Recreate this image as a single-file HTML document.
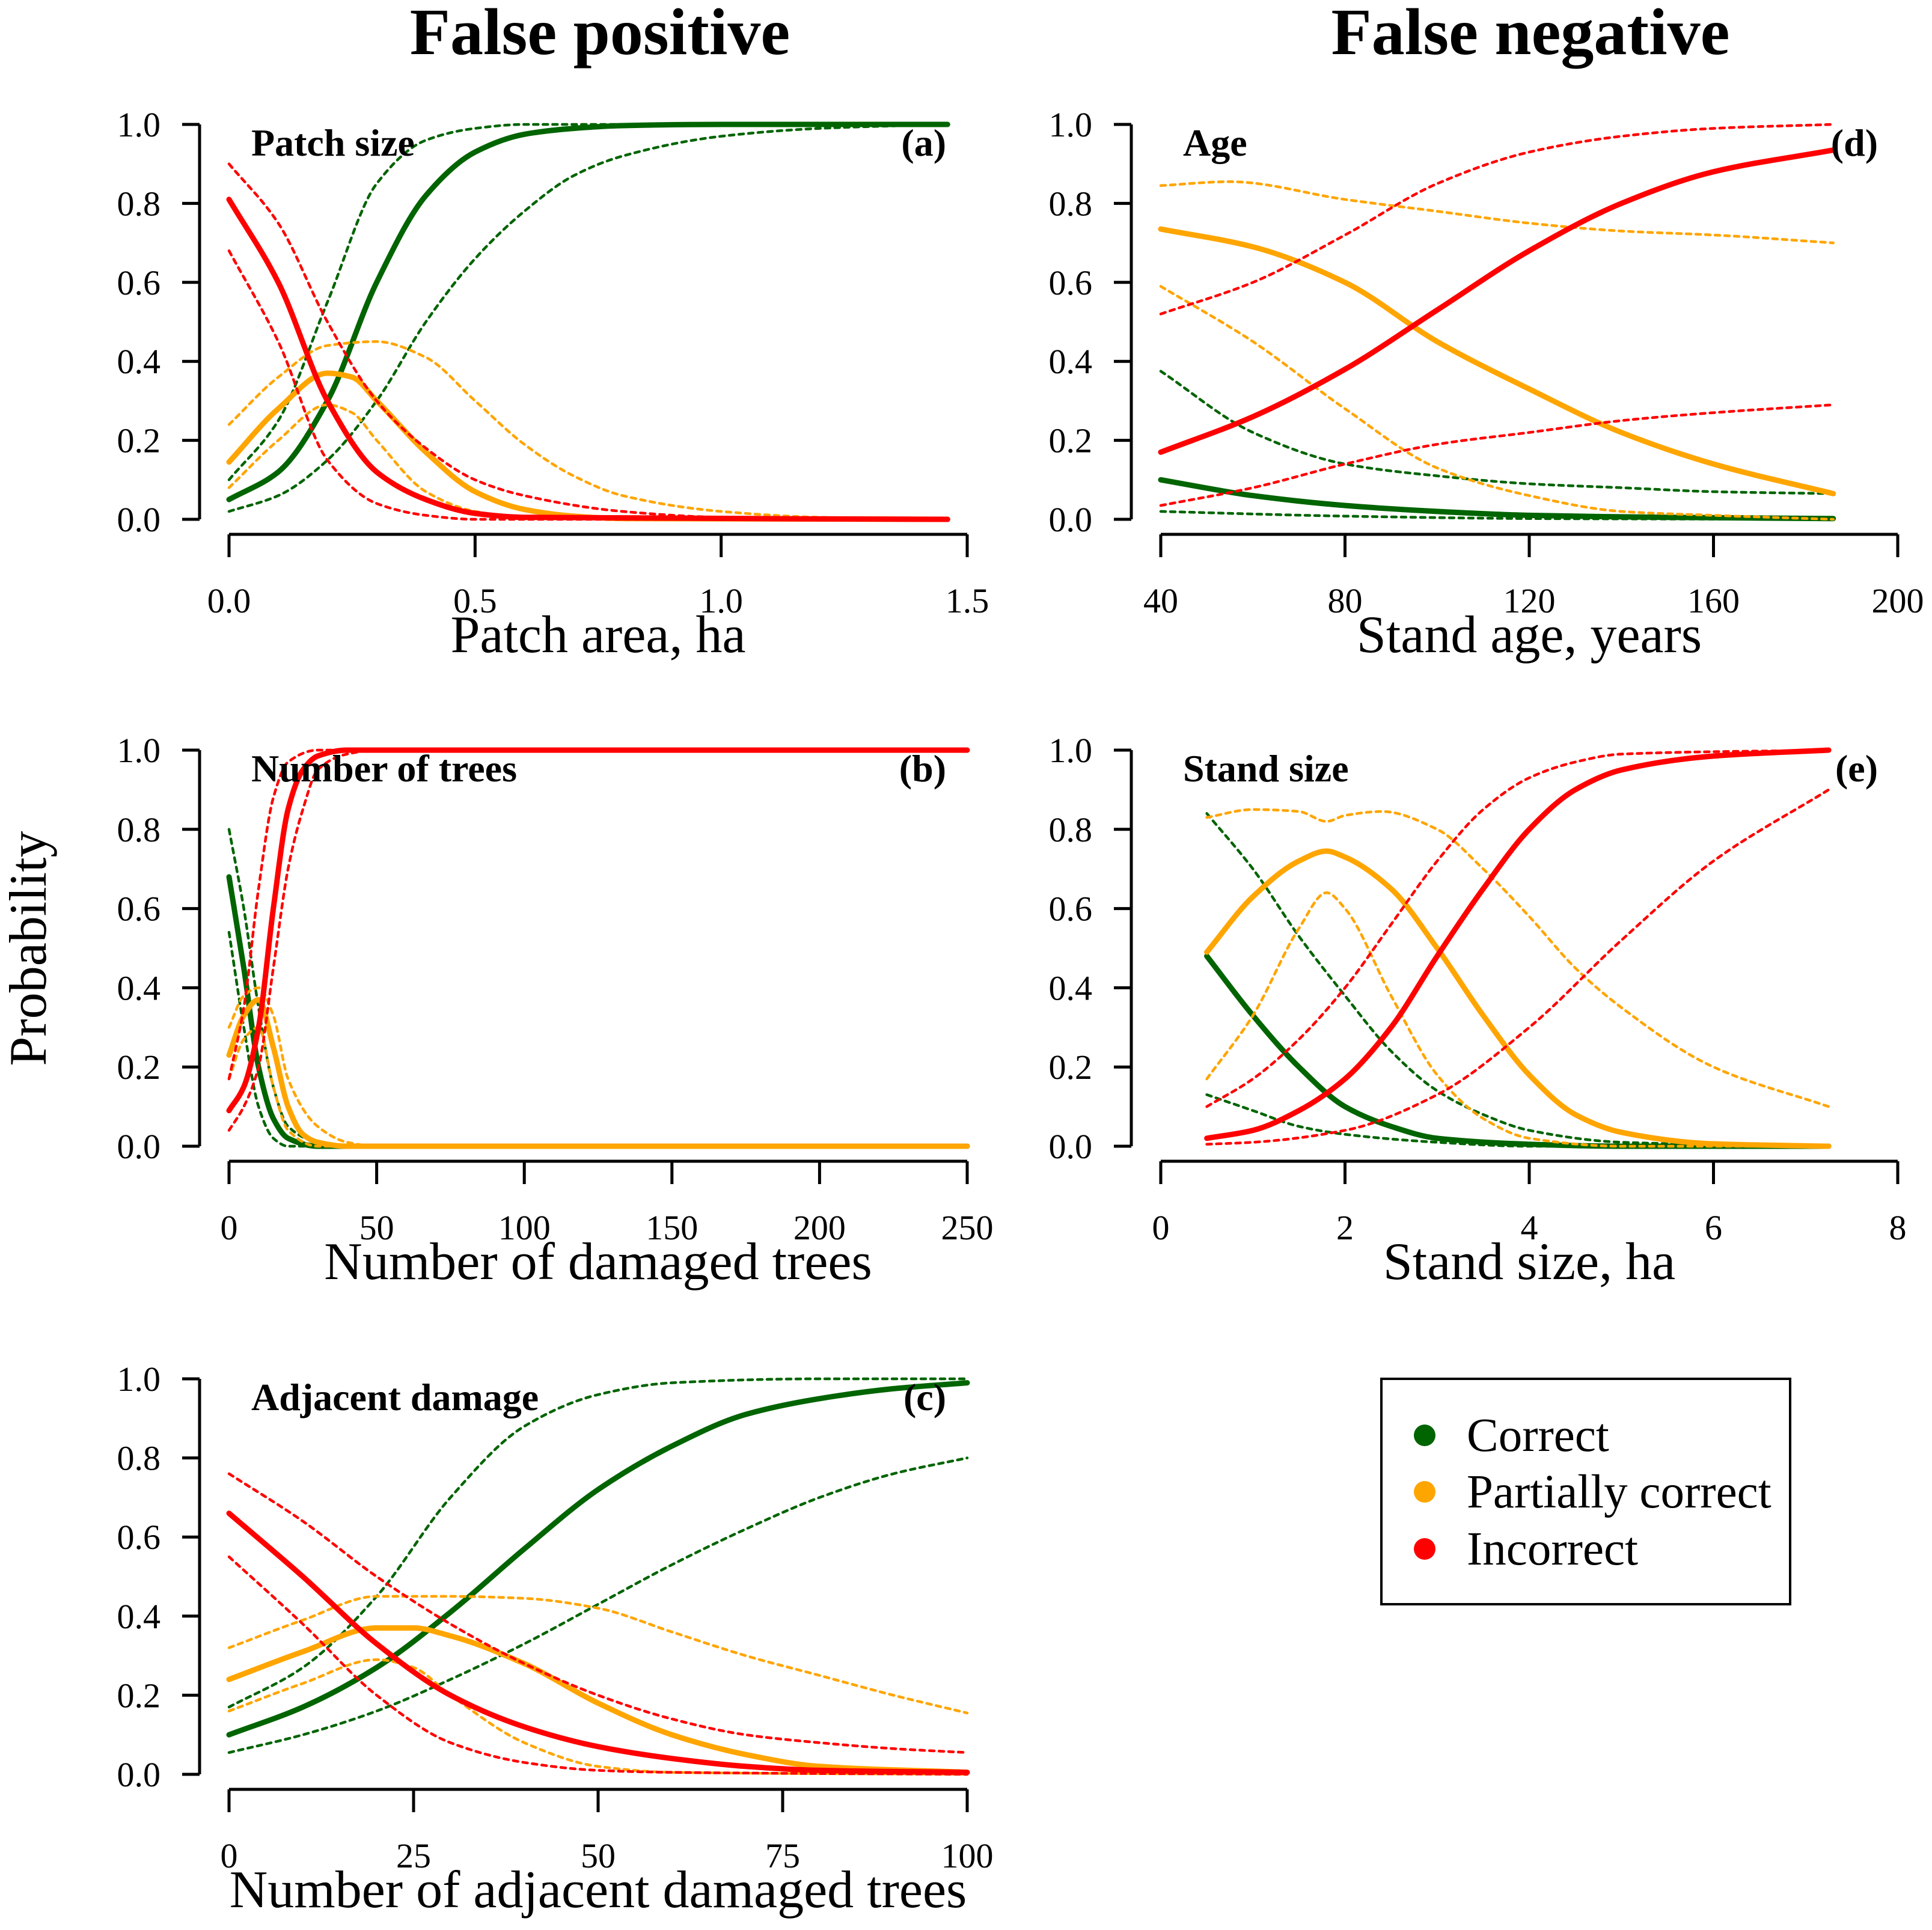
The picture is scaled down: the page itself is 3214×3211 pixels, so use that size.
<!DOCTYPE html>
<html><head><meta charset="utf-8"><style>
html,body{margin:0;padding:0;background:#fff}
svg{display:block;font-family:"Liberation Serif",serif}
</style></head><body>
<svg id="chart" xmlns="http://www.w3.org/2000/svg" width="3214" height="3211" viewBox="0 0 3214 3211">
<rect width="3214" height="3211" fill="#fff"/>
<text x="998" y="90" font-size="110" font-weight="bold" text-anchor="middle">False positive</text>
<text x="2546" y="90" font-size="110" font-weight="bold" text-anchor="middle">False negative</text>
<text transform="translate(76,1578) rotate(-90)" font-size="88" text-anchor="middle">Probability</text>
<g>
<rect x="2298" y="2294" width="680" height="375" fill="none" stroke="#000" stroke-width="4"/>
<circle cx="2370" cy="2388" r="18" fill="#006400"/>
<text x="2440" y="2414" font-size="79">Correct</text>
<circle cx="2370" cy="2482" r="18" fill="#FFA500"/>
<text x="2440" y="2508" font-size="79">Partially correct</text>
<circle cx="2370" cy="2577" r="18" fill="#FF0000"/>
<text x="2440" y="2603" font-size="79">Incorrect</text>
</g>
</svg>
<script>
// Panel (a) Patch size
const aCorrect=[[0,.05],[.1,.12],[.2,.3],[.3,.6],[.4,.82],[.5,.93],[.6,.975],[.7,.99],[.8,.997],[1,1],[1.46,1]];
const aCorrectUp=[[0,.1],[.1,.25],[.2,.55],[.3,.85],[.4,.96],[.5,.99],[.6,1],[1.46,1]];
const aCorrectLo=[[0,.02],[.1,.06],[.2,.15],[.3,.3],[.4,.5],[.5,.66],[.6,.78],[.7,.87],[.8,.92],[1,.97],[1.2,.99],[1.46,1]];
const aPartial=[[0,.145],[.1,.28],[.2,.37],[.25,.36],[.3,.3],[.4,.17],[.5,.07],[.6,.025],[.7,.008],[.8,.002],[1.46,0]];
const aPartialUp=[[0,.24],[.1,.36],[.2,.44],[.3,.45],[.4,.41],[.5,.3],[.6,.19],[.7,.11],[.8,.06],[1,.02],[1.2,.005],[1.46,0]];
const aPartialLo=[[0,.08],[.1,.2],[.2,.29],[.25,.27],[.3,.2],[.4,.07],[.5,.02],[.6,.005],[1.46,0]];
const aIncorrect=[[0,.81],[.1,.6],[.2,.3],[.3,.12],[.4,.05],[.5,.015],[.6,.005],[1.46,0]];
const aIncorrectUp=[[0,.9],[.1,.75],[.2,.5],[.3,.3],[.4,.18],[.5,.1],[.6,.06],[.8,.02],[1,.005],[1.46,0]];
const aIncorrectLo=[[0,.68],[.1,.45],[.2,.15],[.3,.04],[.4,.01],[.5,0],[1.46,0]];
const aTicks=["0.0","0.5","1.0","1.5"];
// Panel (b) Number of trees
const bCorrect=[[0,.68],[5,.45],[10,.2],[15,.07],[20,.02],[30,0],[250,0]];
const bCorrectUp=[[0,.8],[5,.6],[10,.35],[15,.15],[20,.05],[30,.01],[40,0],[250,0]];
const bCorrectLo=[[0,.54],[5,.3],[10,.1],[15,.02],[20,0],[250,0]];
const bPartial=[[0,.23],[5,.33],[10,.37],[15,.25],[20,.1],[25,.03],[30,.01],[40,0],[250,0]];
const bPartialUp=[[0,.3],[5,.38],[10,.4],[15,.33],[20,.17],[30,.05],[40,.01],[50,0],[250,0]];
const bPartialLo=[[0,.17],[5,.27],[10,.3],[15,.15],[20,.04],[30,0],[250,0]];
const bIncorrect=[[0,.09],[5,.15],[10,.3],[15,.6],[20,.85],[25,.95],[30,.985],[40,1],[250,1]];
const bIncorrectUp=[[0,.17],[5,.35],[10,.65],[15,.88],[20,.97],[30,1],[250,1]];
const bIncorrectLo=[[0,.04],[5,.1],[10,.2],[15,.45],[20,.7],[25,.85],[30,.95],[40,.99],[50,1],[250,1]];
const bTicks=["0","50","100","150","200","250"];
// Panel (c) Adjacent damage
const cCorrect=[[0,.1],[10,.17],[20,.27],[30,.41],[40,.57],[50,.72],[60,.83],[70,.91],[80,.95],[90,.975],[100,.99]];
const cCorrectUp=[[0,.17],[10,.27],[20,.45],[30,.7],[40,.88],[50,.96],[60,.99],[80,1],[100,1]];
const cCorrectLo=[[0,.055],[10,.1],[20,.16],[30,.24],[40,.33],[50,.43],[60,.53],[70,.62],[80,.7],[90,.76],[100,.8]];
const cPartial=[[0,.24],[10,.31],[20,.37],[25,.37],[30,.35],[40,.28],[50,.18],[60,.1],[70,.05],[80,.02],[100,.005]];
const cPartialUp=[[0,.32],[10,.39],[20,.45],[30,.45],[40,.445],[50,.42],[60,.36],[70,.3],[80,.25],[90,.2],[100,.155]];
const cPartialLo=[[0,.16],[10,.23],[20,.29],[25,.27],[30,.2],[40,.08],[50,.02],[60,.005],[100,0]];
const cIncorrect=[[0,.66],[10,.5],[20,.33],[30,.2],[40,.12],[50,.07],[60,.04],[70,.02],[80,.01],[100,.005]];
const cIncorrectUp=[[0,.76],[10,.64],[20,.5],[30,.38],[40,.28],[50,.2],[60,.14],[70,.1],[80,.08],[90,.065],[100,.055]];
const cIncorrectLo=[[0,.55],[10,.38],[20,.2],[30,.08],[40,.03],[50,.01],[60,.005],[100,0]];
const cTicks=["0","25","50","75","100"];
// Panel (d) Age
const dCorrect=[[40,.1],[60,.06],[80,.035],[100,.02],[120,.01],[150,.005],[186,.002]];
const dCorrectUp=[[40,.375],[60,.22],[80,.14],[100,.11],[120,.09],[140,.08],[160,.07],[186,.065]];
const dCorrectLo=[[40,.02],[80,.008],[120,.002],[186,0]];
const dPartial=[[40,.735],[60,.69],[80,.6],[100,.45],[120,.33],[140,.22],[160,.14],[186,.065]];
const dPartialUp=[[40,.845],[55,.855],[80,.81],[100,.78],[120,.75],[140,.73],[160,.72],[186,.7]];
const dPartialLo=[[40,.59],[60,.45],[80,.28],[100,.13],[120,.06],[140,.02],[160,.01],[186,0]];
const dIncorrect=[[40,.17],[60,.26],[80,.38],[100,.53],[120,.68],[140,.8],[160,.88],[186,.935]];
const dIncorrectUp=[[40,.52],[60,.6],[80,.72],[100,.85],[120,.93],[140,.97],[160,.99],[186,1]];
const dIncorrectLo=[[40,.035],[60,.08],[80,.14],[100,.19],[120,.22],[140,.25],[160,.27],[186,.29]];
const dTicks=["40","80","120","160","200"];
// Panel (e) Stand size
const eCorrect=[[.5,.48],[1,.33],[1.5,.2],[2,.1],[2.5,.05],[3,.02],[4,.005],[5,0],[7.25,0]];
const eCorrectUp=[[.5,.84],[1,.7],[1.5,.53],[2,.38],[2.5,.24],[3,.14],[3.5,.08],[4,.04],[5,.01],[7.25,0]];
const eCorrectLo=[[.5,.13],[1,.09],[1.5,.05],[2,.03],[3,.01],[4,0],[7.25,0]];
const ePartial=[[.5,.49],[1,.63],[1.5,.72],[1.8,.745],[2,.73],[2.5,.65],[3,.5],[3.5,.33],[4,.18],[4.5,.08],[5,.035],[6,.006],[7.25,0]];
const ePartialUp=[[.5,.83],[1,.85],[1.5,.845],[1.8,.82],[2,.835],[2.4,.845],[3,.8],[3.5,.7],[4,.58],[4.5,.45],[5,.35],[6,.2],[7.25,.1]];
const ePartialLo=[[.5,.17],[1,.33],[1.5,.55],[1.8,.64],[2,.6],[2.5,.38],[3,.18],[3.5,.07],[4,.02],[5,0],[7.25,0]];
const eIncorrect=[[.5,.02],[1,.04],[1.5,.09],[2,.17],[2.5,.3],[3,.48],[3.5,.65],[4,.8],[4.5,.9],[5,.95],[6,.985],[7.25,1]];
const eIncorrectUp=[[.5,.1],[1,.17],[1.5,.27],[2,.4],[2.5,.56],[3,.72],[3.5,.85],[4,.93],[4.5,.97],[5,.99],[7.25,1]];
const eIncorrectLo=[[.5,.005],[1,.01],[2,.04],[3,.13],[4,.3],[5,.52],[6,.72],[7.25,.9]];
const eTicks=["0","2","4","6","8"];
const yTicks=["0.0","0.2","0.4","0.6","0.8","1.0"];

const NS="http://www.w3.org/2000/svg";
const svg=document.getElementById('chart');
function mk(tag,attrs,parent){const e=document.createElementNS(NS,tag);for(const k in attrs)e.setAttribute(k,attrs[k]);parent.appendChild(e);return e;}
const COL={correct:"#006400",partial:"#FFA500",incorrect:"#FF0000"};

// monotone cubic (Fritsch-Carlson) path
function monoPath(pts){
  const n=pts.length;const dx=[],m=[],t=[];
  for(let i=0;i<n-1;i++){dx[i]=pts[i+1][0]-pts[i][0];m[i]=(pts[i+1][1]-pts[i][1])/dx[i];}
  t[0]=m[0];t[n-1]=m[n-2];
  for(let i=1;i<n-1;i++){
    if(m[i-1]*m[i]<=0)t[i]=0;
    else{const w1=2*dx[i]+dx[i-1],w2=dx[i]+2*dx[i-1];t[i]=(w1+w2)/(w1/m[i-1]+w2/m[i]);}
  }
  let d="M"+pts[0][0].toFixed(1)+","+pts[0][1].toFixed(1);
  for(let i=0;i<n-1;i++){
    const h=dx[i]/3;
    d+=" C"+(pts[i][0]+h).toFixed(1)+","+(pts[i][1]+t[i]*h).toFixed(1)+" "+(pts[i+1][0]-h).toFixed(1)+","+(pts[i+1][1]-t[i+1]*h).toFixed(1)+" "+pts[i+1][0].toFixed(1)+","+pts[i+1][1].toFixed(1);
  }
  return d;
}

function panel(p){
  const g=mk('g',{},svg);
  
  
  const xs=v=>p.x0+(v-p.xmin)/(p.xmax-p.xmin)*(p.x1-p.x0);
  const ys=v=>p.y0-v*(p.y0-p.y1);
  const ya=mk('line',{x1:p.x0-49,x2:p.x0-49,y1:p.y1,y2:p.y0,stroke:"#000","stroke-width":5},g);
  
  
  yTicks.forEach((t,i)=>{
    const v=i/(yTicks.length-1);
    mk('line',{x1:p.x0-49,x2:p.x0-78,y1:ys(v),y2:ys(v),stroke:"#000","stroke-width":5},g);
    const tx=mk('text',{x:p.x0-114,y:ys(v)+20,"font-size":58,"text-anchor":"end"},g);
    
    
    tx.textContent=t;
  });
  const ay=p.y0+25;
  const xa=mk('line',{x1:p.x0,x2:p.x1,y1:ay,y2:ay,stroke:"#000","stroke-width":5},g);
  
  
  p.ticks.forEach((t,i)=>{
    const v=p.xmin+i*(p.xmax-p.xmin)/(p.ticks.length-1);
    mk('line',{x1:xs(v),x2:xs(v),y1:ay,y2:ay+38,stroke:"#000","stroke-width":5},g);
    const tx=mk('text',{x:xs(v),y:ay+130,"font-size":58,"text-anchor":"middle"},g);
    
    
    tx.textContent=t;
  });
  const xt=mk('text',{x:(p.x0+p.x1)/2,y:ay+196,"font-size":88,"text-anchor":"middle"},g);
  
  
  xt.textContent=p.xlabel;
  p.series.forEach(s=>{
    const pts=s.d.map(q=>[xs(q[0]),ys(q[1])]);
    const a={d:monoPath(pts),fill:"none",stroke:COL[s.c],"stroke-width":s.ci?4.5:9,"stroke-linecap":"round"};
    if(s.ci)a["stroke-dasharray"]="8 8";
    const el=mk('path',a,g);
    
    
  });
  const t1=mk('text',{x:p.x0+37,y:p.y1+52,"font-size":64,"font-weight":"bold"},g);
  
  
  t1.textContent=p.title;
  const t2=mk('text',{x:p.x0+1193,y:p.y1+52,"font-size":64,"font-weight":"bold","text-anchor":"end"},g);
  
  
  t2.textContent=p.letter;
}
function ser(c,m,u,l){return[
 {c:c,d:u,ci:true,name:c+'-upper-ci'},{c:c,d:l,ci:true,name:c+'-lower-ci'},{c:c,d:m,ci:false,name:c+'-line'}];}
function all(C,Cu,Cl,P,Pu,Pl,I,Iu,Il){return [...ser('correct',C,Cu,Cl),...ser('partial',P,Pu,Pl),...ser('incorrect',I,Iu,Il)];}

panel({id:'a',x0:381,x1:1609,y1:207,y0:864,xmin:0,xmax:1.5,ticks:aTicks,xlabel:"Patch area, ha",title:"Patch size",letter:"(a)",
 series:all(aCorrect,aCorrectUp,aCorrectLo,aPartial,aPartialUp,aPartialLo,aIncorrect,aIncorrectUp,aIncorrectLo)});
panel({id:'b',x0:381,x1:1609,y1:1248,y0:1907,xmin:0,xmax:250,ticks:bTicks,xlabel:"Number of damaged trees",title:"Number of trees",letter:"(b)",
 series:all(bCorrect,bCorrectUp,bCorrectLo,bPartial,bPartialUp,bPartialLo,bIncorrect,bIncorrectUp,bIncorrectLo)});
panel({id:'c',x0:381,x1:1609,y1:2294,y0:2952,xmin:0,xmax:100,ticks:cTicks,xlabel:"Number of adjacent damaged trees",title:"Adjacent damage",letter:"(c)",
 series:all(cCorrect,cCorrectUp,cCorrectLo,cPartial,cPartialUp,cPartialLo,cIncorrect,cIncorrectUp,cIncorrectLo)});
panel({id:'d',x0:1931,x1:3157,y1:207,y0:864,xmin:40,xmax:200,ticks:dTicks,xlabel:"Stand age, years",title:"Age",letter:"(d)",
 series:all(dCorrect,dCorrectUp,dCorrectLo,dPartial,dPartialUp,dPartialLo,dIncorrect,dIncorrectUp,dIncorrectLo)});
panel({id:'e',x0:1931,x1:3157,y1:1248,y0:1907,xmin:0,xmax:8,ticks:eTicks,xlabel:"Stand size, ha",title:"Stand size",letter:"(e)",
 series:all(eCorrect,eCorrectUp,eCorrectLo,ePartial,ePartialUp,ePartialLo,eIncorrect,eIncorrectUp,eIncorrectLo)});
</script>
</body></html>
